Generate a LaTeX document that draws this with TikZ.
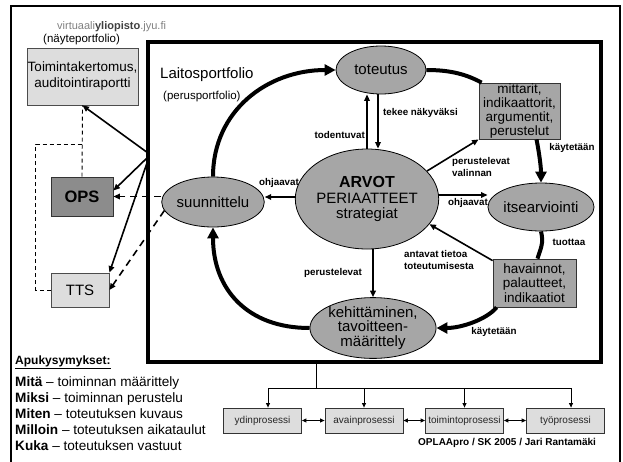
\documentclass[tikz,border=0pt]{standalone}
\usepackage{fontspec}
\setmainfont{Liberation Sans}
\usetikzlibrary{arrows.meta,shapes.geometric}
\definecolor{ellfill}{HTML}{A6A6A6}
\definecolor{boxmid}{HTML}{A6A6A6}
\definecolor{boxlight}{HTML}{DDDDDD}
\definecolor{boxdark}{HTML}{8C8C8C}
\definecolor{webgrey}{HTML}{808080}
\definecolor{webdark}{HTML}{404040}
\tikzset{
 ell/.style={ellipse, draw=black, line width=0.8pt, fill=ellfill, inner sep=0pt, align=center, font=\fontsize{15}{14.5}\selectfont},
 midbox/.style={rectangle, draw=black!80, line width=0.8pt, fill=boxmid, inner sep=0pt, align=center, font=\fontsize{13.5}{14.3}\selectfont},
 lightbox/.style={rectangle, draw=black!70, line width=0.8pt, fill=boxlight, inner sep=0pt, align=center},
 procbox/.style={rectangle, draw=black!80, line width=0.8pt, fill=boxlight, inner sep=0pt, minimum width=78pt, minimum height=25pt, font=\fontsize{10}{12}\selectfont, text=black!85},
 lbl/.style={font=\fontsize{9.8}{12}\selectfont\bfseries, inner sep=0pt, align=left},
 plain/.style={inner sep=0pt, anchor=west},
 qline/.style={inner sep=0pt, anchor=west, font=\fontsize{13.6}{15}\selectfont},
 bigflow/.style={line width=4pt, -{Triangle[length=11pt,width=11pt]}},
 bigline/.style={line width=4pt},
 thinarrow/.style={line width=1.6pt, -{Triangle[length=6.5pt,width=5.5pt]}},
 dasharrow/.style={line width=1.6pt, dash pattern=on 7pt off 5pt, -{Triangle[length=6.5pt,width=5.5pt]}},
 finedash/.style={line width=0.9pt, dash pattern=on 4pt off 3pt},
 busline/.style={line width=0.9pt},
 busarrow/.style={line width=0.9pt, -{Triangle[length=4.5pt,width=4pt]}},
 biarrow/.style={line width=0.9pt, {Triangle[length=4.5pt,width=4pt]}-{Triangle[length=4.5pt,width=4pt]}},
}
\begin{document}
\begin{tikzpicture}[x=1pt,y=-1pt]
\useasboundingbox (0,0) rectangle (623,461);
% outer frame
\draw[line width=2.5pt] (11,463) -- (11,6) -- (620,6) -- (620,463);
% inner box
\node[draw, line width=4pt, minimum width=453pt, minimum height=320pt, inner sep=0pt] (laitos) at (374.5,202) {};

% header texts
\node[plain, font=\fontsize{11}{13}\selectfont, text=webgrey] (web) at (57,27) {virtuaali{\bfseries\color{webdark}yliopisto}.jyu.fi};
\node[plain, font=\fontsize{11.5}{13}\selectfont] (np) at (43,40) {(näyteportfolio)};
\node[plain, font=\fontsize{15}{16}\selectfont] (lp) at (160,75) {Laitosportfolio};
\node[plain, font=\fontsize{11.5}{13}\selectfont] (pp) at (163,97) {(perusportfolio)};

% left boxes
\node[lightbox, minimum width=111pt, minimum height=57pt, font=\fontsize{13.5}{16}\selectfont] (toim) at (82.5,76.5) {Toimintakertomus,\\auditointiraportti};
\node[rectangle, draw=black!80, line width=0.8pt, fill=boxdark, inner sep=0pt, minimum width=62pt, minimum height=39pt, font=\fontsize{16.5}{18}\selectfont\bfseries] (ops) at (82,196.5) {OPS};
\node[lightbox, minimum width=58pt, minimum height=34pt, font=\fontsize{15}{16}\selectfont] (tts) at (80,290) {TTS};

% ellipses
\node[ell, minimum width=90pt, minimum height=48pt] (tot) at (381,70) {toteutus};
\node[ell, minimum width=102pt, minimum height=50pt] (suun) at (213,202) {suunnittelu};
\node[ell, minimum width=125pt, minimum height=100pt, font=\fontsize{15}{15.5}\selectfont] (arvot) at (367,199) {{\fontsize{16}{15.5}\selectfont\bfseries ARVOT}\\PERIAATTEET\\strategiat};
\node[ell, minimum width=98pt, minimum height=48pt] (itse) at (541,207) {itsearviointi};
\node[ell, minimum width=117pt, minimum height=58pt] (keh) at (373,328) {kehittäminen,\\tavoitteen-\\määrittely};

% grey boxes
\node[midbox, minimum width=81pt, minimum height=56pt] (mitt) at (519.5,111) {mittarit,\\indikaattorit,\\argumentit,\\perustelut};
\node[midbox, minimum width=83pt, minimum height=48pt] (hav) at (534.5,283) {havainnot,\\palautteet,\\indikaatiot};

% big cycle
\draw[bigflow] (suun.north) .. controls +(0,-66) and +(-68,0) .. (tot.west);
\draw[bigline] (tot.east) .. controls +(25,0) and +(-15,-8) .. ([xshift=3pt]mitt.north west);
\draw[bigflow] ([xshift=17pt]mitt.south) .. controls +(3,15) and +(0,-15) .. (itse.north);
\draw[bigline] (itse.south) .. controls +(3,12) and +(3,-10) .. ([xshift=3pt]hav.north);
\draw[bigflow] ([xshift=4pt]hav.south west) .. controls +(-10,12) and +(25,0) .. (keh.east);
\draw[bigflow] (keh.west) .. controls +(-62,0) and +(0,62) .. (suun.south);

% thin arrows
\draw[thinarrow] (arvot.north) -- (arvot.north |- tot.south);
\draw[thinarrow] ([xshift=-3pt]tot.south) -- ([xshift=-3pt]tot.south |- arvot.north);
\draw[thinarrow] (arvot.25) -- (mitt.south west);
\draw[thinarrow] ([yshift=4pt]arvot.east) -- ([yshift=4pt]arvot.east -| itse.west);
\draw[thinarrow] ([yshift=2pt]arvot.west) -- ([yshift=2pt]arvot.west -| suun.east);
\draw[thinarrow] ([yshift=-2pt]hav.north west) -- (arvot.-22);
\draw[thinarrow] (keh.north |- arvot.south) -- (keh.north);

% labels
\node[lbl, anchor=east] (l_tod) at (365,135) {todentuvat};
\node[lbl, anchor=west] (l_tek) at (383,113) {tekee näkyväksi};
\node[lbl, anchor=west] (l_pv) at (452,167) {perustelevat\\valinnan};
\node[lbl] (l_oh1) at (468,203) {ohjaavat};
\node[lbl] (l_oh2) at (279,183) {ohjaavat};
\node[lbl] (l_kay1) at (572,148) {käytetään};
\node[lbl] (l_tuo) at (569,242) {tuottaa};
\node[lbl] (l_kay2) at (494,332) {käytetään};
\node[lbl, anchor=west] (l_ant) at (404,260) {antavat tietoa\\toteutumisesta};
\node[lbl] (l_per) at (333,273) {perustelevat};

% left connections
\coordinate (s1) at (148,153);
\coordinate (s2) at (148,157);
\coordinate (s3) at (148,160);
\coordinate (jn) at (82,144);
\draw[thinarrow] (s1) -- (toim.south);
\draw[thinarrow] (s2) -- ([yshift=6pt]ops.east);
\draw[thinarrow] (s3) -- (tts.north east);
\draw[dasharrow] (suun.west |- ops.east) -- (ops.east);
\draw[dasharrow] (suun.190) -- (tts.east);
\draw[finedash] (ops.north) -- (toim.south);
\draw[finedash] (tts.west) -- ++(-15,0) |- (jn);

% process bus
\node[procbox] (ydin) at (262.5,420.5) {ydinprosessi};
\node[procbox] (avain) at (364,420.5) {avainprosessi};
\node[procbox] (toiminto) at (464.5,420.5) {toimintoprosessi};
\node[procbox] (tyo) at (565.5,420.5) {työprosessi};
\coordinate (bb) at (316,388);
\coordinate (b1) at (268,388);
\coordinate (b4) at (571,388);
\draw[busline] (laitos.south -| bb) -- (bb);
\draw[busline] (b1) -- (b4);
\draw[busarrow] (b1) -- (b1 |- ydin.north);
\draw[busarrow] (avain.north |- b1) -- (avain.north);
\draw[busarrow] (toiminto.north |- b1) -- (toiminto.north);
\draw[busarrow] (b4) -- (b4 |- tyo.north);
\draw[biarrow] (ydin.east) -- (avain.west);
\draw[biarrow] (avain.east) -- (toiminto.west);
\draw[biarrow] (toiminto.east) -- (tyo.west);
\node[plain, font=\fontsize{10}{12}\selectfont\bfseries] (cred) at (418,443) {OPLAApro / SK 2005 / Jari Rantamäki};

% help questions
\node[plain, font=\fontsize{12}{14}\selectfont\bfseries] (apu) at (15,362) {\underline{Apukysymykset:}};
\node[qline] (q1) at (15,383) {\textbf{Mitä} – toiminnan määrittely};
\node[qline] (q2) at (15,399) {\textbf{Miksi} – toiminnan perustelu};
\node[qline] (q3) at (15,414) {\textbf{Miten} – toteutuksen kuvaus};
\node[qline] (q4) at (15,430) {\textbf{Milloin} – toteutuksen aikataulut};
\node[qline] (q5) at (15,446) {\textbf{Kuka} – toteutuksen vastuut};
\end{tikzpicture}
\end{document}
